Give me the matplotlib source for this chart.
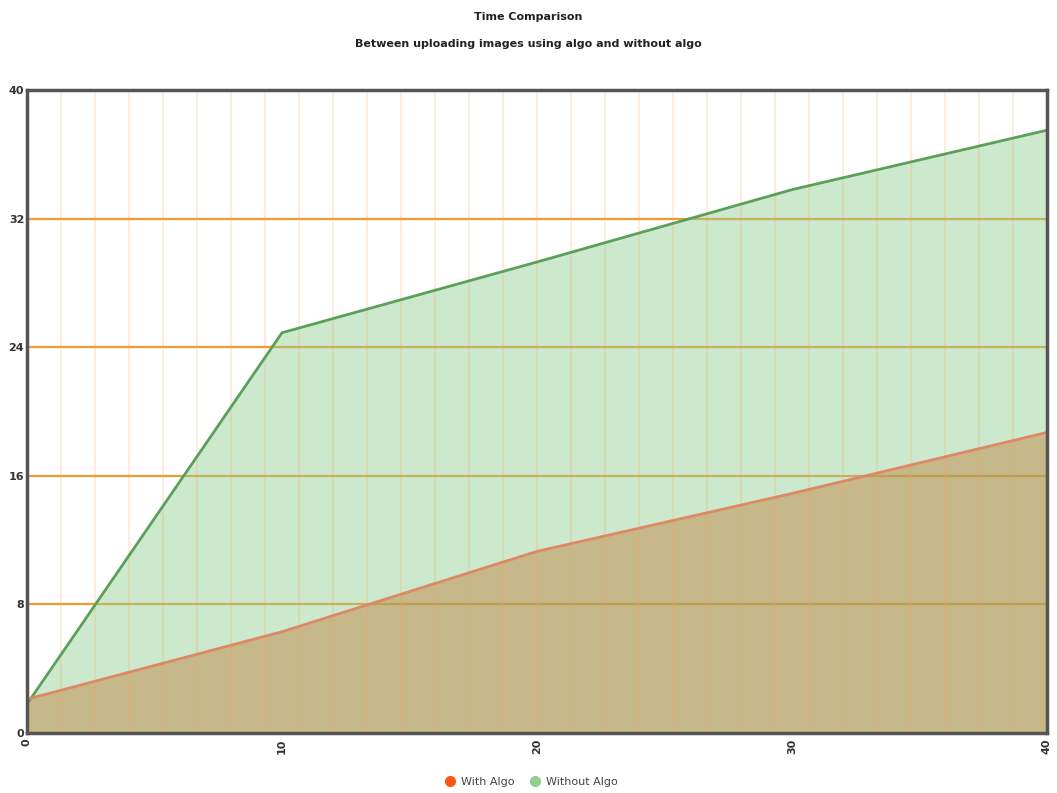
import matplotlib
matplotlib.use("Agg")
import matplotlib.pyplot as plt
from matplotlib.lines import Line2D
import numpy as np

x_vals = [0, 10, 20, 30, 40]
with_algo = [2.1, 6.3, 11.3, 14.9, 18.7]
without_algo = [1.8, 24.9, 29.3, 33.8, 37.5]
y_ticks = [0, 8, 16, 24, 32, 40]
x_ticks = [0, 10, 20, 30, 40]
series_names = ["With Algo", "Without Algo"]
title_line1 = "Time Comparison"
title_line2 = "Between uploading images using algo and without algo"

fig = plt.figure(figsize=(10.57, 7.93), dpi=100)
ax = fig.add_axes([27/1057, 1-733/793, (1047-27)/1057, (733-90)/793])

# horizontal grid below the translucent fills
for gy in y_ticks[1:-1]:
    ax.axhline(gy, color="#f29a2e", linewidth=1.6, zorder=0.5)

# fills
ax.fill_between(x_vals, 0, without_algo, color="#90d090", alpha=0.45, zorder=1, linewidth=0)
ax.fill_between(x_vals, 0, with_algo, color="#c18945", alpha=0.5, zorder=1.5, linewidth=0)

# vertical grid on top
for gx in np.linspace(0, 40, 31)[1:-1]:
    ax.axvline(gx, color="#f7a35c", alpha=0.25, linewidth=1.2, zorder=2)

ax.plot(x_vals, without_algo, color="#5aa05a", linewidth=2.0, zorder=3)
ax.plot(x_vals, with_algo, color="#dd8866", linewidth=2.0, zorder=3)

ax.set_xlim(0, 40)
ax.set_ylim(0, 40)
ax.set_xticks(x_ticks)
ax.set_yticks(y_ticks)
ax.set_xticklabels([str(v) for v in x_ticks], rotation=90, fontsize=8, color="#333333", fontweight="bold")
ax.set_yticklabels([str(v) for v in y_ticks], fontsize=8, color="#333333", fontweight="bold")
ax.tick_params(axis="both", length=0, pad=4)
ax.tick_params(axis="y", pad=2)
for s in ax.spines.values():
    s.set_color("#555555")
    s.set_linewidth(2.5)
    s.set_zorder(5)

fig.text(0.5, 1-17/793, title_line1, ha="center", va="center", fontsize=8, fontweight="bold", color="#222222")
fig.text(0.5, 1-44/793, title_line2, ha="center", va="center", fontsize=8, fontweight="bold", color="#222222")

handles = [Line2D([], [], marker="o", linestyle="", color="#ff5511", markersize=7),
           Line2D([], [], marker="o", linestyle="", color="#8fcf8f", markersize=7)]
fig.legend(handles, series_names, loc="center", bbox_to_anchor=(0.5, 1-782/793), ncol=2,
           frameon=False, fontsize=8, handletextpad=0.0, columnspacing=0.8,
           labelcolor="#444444")

fig.savefig("out.png", dpi=100)
